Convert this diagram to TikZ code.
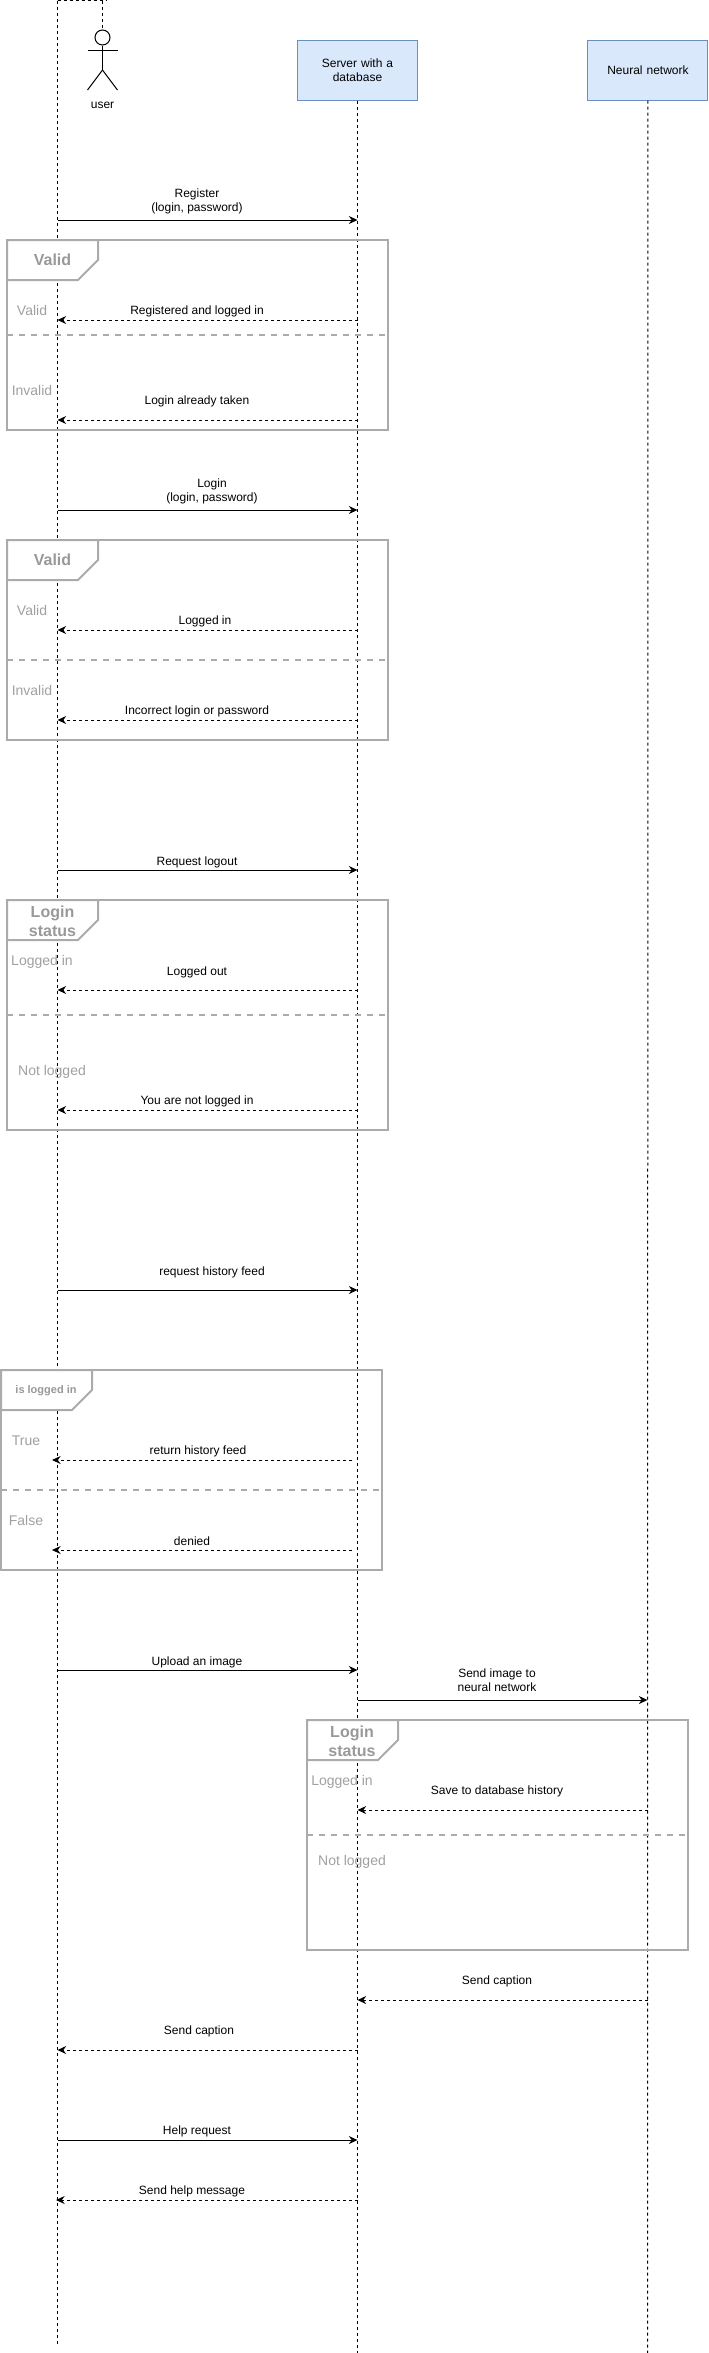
\documentclass[tikz,border=0pt]{standalone}
\usepackage{fontspec}
\setmainfont{Liberation Sans}
\usetikzlibrary{arrows.meta, positioning}
\definecolor{boxfill}{HTML}{DAE8FC}
\definecolor{boxline}{HTML}{6C8EBF}
\definecolor{framegray}{HTML}{ABABAB}
\definecolor{guardgray}{HTML}{A0A0A0}
\definecolor{titlegray}{HTML}{999999}

\begin{document}
\begin{tikzpicture}[
  x=0.75pt, y=-0.75pt,
  block/.style={rectangle, draw=boxline, line width=0.75pt, fill=boxfill, text centered,
                minimum width=90pt, minimum height=45pt, text width=80pt, inner sep=0pt,
                font=\fontsize{9}{10.5}\selectfont},
  msg/.style={inner sep=0pt, text height=7.4pt, text depth=1.1pt,
              font=\fontsize{9}{10.5}\selectfont},
  msgtwo/.style={inner sep=0pt, align=center, font=\fontsize{9}{10.5}\selectfont},
  guard/.style={inner sep=0pt, text height=8.5pt, text depth=1.4pt, text=guardgray,
                font=\fontsize{10.5}{12}\selectfont},
  title/.style={inner sep=0pt, align=center, text=titlegray,
                font=\fontsize{12}{14.25}\selectfont\bfseries},
  framebox/.style={rectangle, draw=framegray, line width=1.5pt, minimum width=285.75pt,
                   inner sep=0pt, outer sep=0pt},
  tabshape/.style={draw=framegray, line width=1.5pt, fill=white},
  divider/.style={draw=framegray, line width=1.5pt, dash pattern=on 4.5pt off 4.5pt},
  lifeline/.style={line width=0.75pt, dash pattern=on 2.25pt off 2.25pt},
  arr/.style={-{Stealth[length=6.5pt, width=6pt]}, line width=0.75pt},
  darr/.style={-{Stealth[length=6.5pt, width=6pt]}, line width=0.75pt, dash pattern=on 2.25pt off 2.25pt}
]
\useasboundingbox (0,0) rectangle (708,2353);

% Heads of the lifelines
\node[block] (server) at (357.5,70) {Server with a\\database};
\node[block, right=127.1pt of server] (neural) {Neural network};
\coordinate (user_top) at (57.5,0.5);
\coordinate (user_end) at (57.5,2346);
\coordinate (server_end) at (357.5,2353);
\coordinate (neural_end) at (647.5,2353);
\coordinate (hook_corner) at (102.5,0.5);
\coordinate (hook_end) at (107,0.5);
\coordinate (hook_foot) at (102.5,28);

% Points on the lifelines
\foreach \y in {220,240,320,335,420,510,630,660,720,870,990,1015,1110,1290,1490,1670,1700,1810,1835,2000,2050,2140,2200} {
  \coordinate (u\y) at (57.5,\y);
  \coordinate (s\y) at (357.5,\y);
  \coordinate (n\y) at (647.5,\y);
}
\coordinate (l1460) at (52,1460);
\coordinate (r1460) at (352,1460);
\coordinate (l1550) at (52,1550);
\coordinate (r1550) at (352,1550);
\coordinate (l2200) at (56,2200);

\draw[lifeline] (user_top) -- (user_end);
\draw[lifeline] (server) -- (server_end);
\draw[lifeline] (neural) -- (neural_end);
\draw[lifeline] (user_top) -- (hook_end);
\draw[lifeline] (hook_corner) -- (hook_foot);

% Actor
\node[circle, draw, line width=0.75pt, minimum size=11.25pt, inner sep=0pt] (head) at (102.5,37.5) {};
\coordinate (hip) at (102.5,70);
\coordinate (neck) at (102.5,50);
\draw[line width=0.75pt] (head) -- (hip);
\draw[line width=0.75pt] (neck) ++(-15,0) -- ++(30,0);
\draw[line width=0.75pt] (hip) -- ++(-15,20);
\draw[line width=0.75pt] (hip) -- ++(15,20);
\node[msg] (user) at (102.5,104) {user};

% Register
\draw[arr] (u220) -- (s220);
\node[msgtwo] (msg_register) at (197,201) {Register\\(login, password)};
\node[framebox, minimum height=142.5pt] (frame_reg) at (197.5,335) {};
\draw[tabshape] (frame_reg.north west) -- ++(91,0) -- ++(0,20) -- ++(-20,20) -- ++(-71,0) -- cycle;
\node[title] (title_reg) at (52.5,260) {Valid};
\draw[divider] (u335 -| frame_reg.west) -- (u335 -| frame_reg.east);
\node[guard] (guard_reg_ok) at (32,311) {Valid};
\node[guard] (guard_reg_bad) at (32,391) {Invalid};
\draw[darr] (s320) -- (u320);
\node[msg] (msg_registered) at (197,310) {Registered and logged in};
\draw[darr] (s420) -- (u420);
\node[msg] (msg_taken) at (197,400) {Login already taken};

% Login
\draw[arr] (u510) -- (s510);
\node[msgtwo] (msg_login) at (212,491) {Login\\(login, password)};
\node[framebox, minimum height=150pt] (frame_login) at (197.5,640) {};
\draw[tabshape] (frame_login.north west) -- ++(91,0) -- ++(0,20) -- ++(-20,20) -- ++(-71,0) -- cycle;
\node[title] (title_login) at (52.5,560) {Valid};
\draw[divider] (u660 -| frame_login.west) -- (u660 -| frame_login.east);
\node[guard] (guard_login_ok) at (32,611) {Valid};
\node[guard] (guard_login_bad) at (32,691) {Invalid};
\draw[darr] (s630) -- (u630);
\node[msg] (msg_logged) at (205,620) {Logged in};
\draw[darr] (s720) -- (u720);
\node[msg] (msg_incorrect) at (197,710) {Incorrect login or password};

% Logout
\draw[arr] (u870) -- (s870);
\node[msg] (msg_logout) at (197,861) {Request logout};
\node[framebox, minimum height=172.5pt] (frame_logout) at (197.5,1015) {};
\draw[tabshape] (frame_logout.north west) -- ++(91,0) -- ++(0,20) -- ++(-20,20) -- ++(-71,0) -- cycle;
\node[title] (title_logout) at (52.5,921) {Login\\status};
\draw[divider] (u1015 -| frame_logout.west) -- (u1015 -| frame_logout.east);
\node[guard] (guard_logout_in) at (42,961) {Logged in};
\node[guard] (guard_logout_not) at (52,1071) {Not logged};
\draw[darr] (s990) -- (u990);
\node[msg] (msg_loggedout) at (197,971) {Logged out};
\draw[darr] (s1110) -- (u1110);
\node[msg] (msg_notin) at (197,1100) {You are not logged in};

% History
\draw[arr] (u1290) -- (s1290);
\node[msg] (msg_history) at (212,1271) {request history feed};
\node[framebox, minimum height=150pt] (frame_history) at (191.5,1470) {};
\draw[tabshape] (frame_history.north west) -- ++(91,0) -- ++(0,20) -- ++(-20,20) -- ++(-71,0) -- cycle;
\node[title, font=\fontsize{8.25}{10}\selectfont\bfseries] (title_history) at (46,1391) {is logged in};
\draw[divider] (u1490 -| frame_history.west) -- (u1490 -| frame_history.east);
\node[guard] (guard_true) at (26,1441) {True};
\node[guard] (guard_false) at (26,1521) {False};
\draw[darr] (r1460) -- (l1460);
\node[msg] (msg_feed) at (198,1450) {return history feed};
\draw[darr] (r1550) -- (l1550);
\node[msg] (msg_denied) at (192,1541) {denied};

% Upload
\draw[arr] (u1670) -- (s1670);
\node[msg] (msg_upload) at (197,1661) {Upload an image};
\draw[arr] (s1700) -- (n1700);
\node[msgtwo] (msg_send) at (497,1680) {Send image to\\neural network};
\node[framebox, minimum height=172.5pt] (frame_save) at (497.5,1835) {};
\draw[tabshape] (frame_save.north west) -- ++(91,0) -- ++(0,20) -- ++(-20,20) -- ++(-71,0) -- cycle;
\node[title] (title_save) at (352,1741) {Login\\status};
\draw[divider] (s1835 -| frame_save.west) -- (s1835 -| frame_save.east);
\node[guard] (guard_save_in) at (342,1781) {Logged in};
\node[guard] (guard_save_not) at (352,1861) {Not logged};
\draw[darr] (n1810) -- (s1810);
\node[msg] (msg_save) at (497,1790) {Save to database history};
\draw[darr] (n2000) -- (s2000);
\node[msg] (msg_caption_a) at (497,1980) {Send caption};
\draw[darr] (s2050) -- (u2050);
\node[msg] (msg_caption_b) at (199,2030) {Send caption};

% Help
\draw[arr] (u2140) -- (s2140);
\node[msg] (msg_help) at (197,2130) {Help request};
\draw[darr] (s2200) -- (l2200);
\node[msg] (msg_helpmsg) at (192,2190) {Send help message};

\end{tikzpicture}
\end{document}
